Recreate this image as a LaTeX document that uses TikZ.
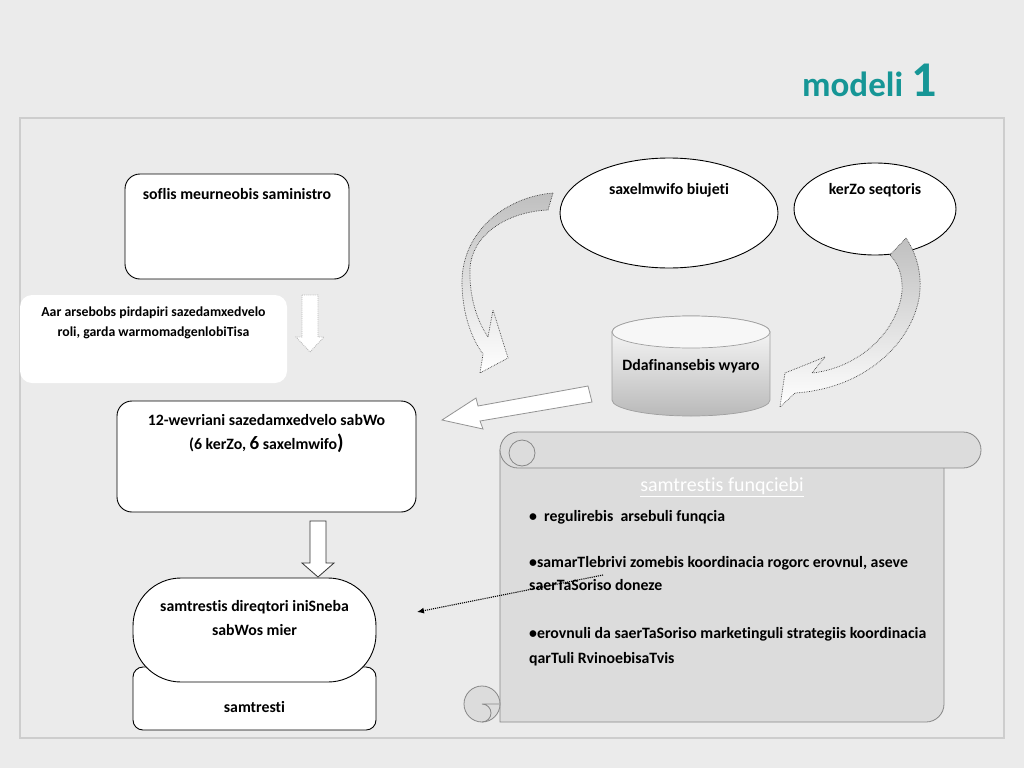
\documentclass[tikz,border=0pt]{standalone}
\usepackage{fontspec}
\setmainfont{Carlito}[Ligatures={NoCommon,NoContextual}]
\usetikzlibrary{positioning,shapes.geometric,arrows.meta}
\definecolor{modelteal}{RGB}{22,150,150}
\definecolor{slidegray}{RGB}{235,235,235}
\definecolor{framegray}{RGB}{205,205,205}
\definecolor{scrollgray}{RGB}{220,220,220}
\definecolor{scrolledge}{RGB}{135,135,135}

\begin{document}
\begin{tikzpicture}[x=1pt,y=-1pt,
  box_node/.style={rectangle,draw=black,line width=0.9pt,fill=white,rounded corners=15pt,inner sep=0pt},
  oval_node/.style={ellipse,draw=black,line width=0.9pt,fill=white,inner sep=0pt},
  text_node/.style={font=\fontsize{15.8}{24}\selectfont\bfseries,align=center,inner sep=0pt},
  list_node/.style={font=\fontsize{15.8}{23}\selectfont\bfseries,anchor=base west,inner sep=0pt},
  block_arrow/.style={fill=white,draw=gray!85,line width=0.8pt},
  dotted_arrow/.style={fill=white,draw=gray!55,densely dotted,line width=0.9pt},
  curved_arrow/.style={top color=gray!50,bottom color=white,draw=black!75,densely dotted,line width=0.7pt},
  scroll_part/.style={fill=scrollgray,draw=scrolledge,line width=0.8pt}]

  % slide and frame
  \fill[slidegray] (0,0) rectangle (1024,768);
  \useasboundingbox (0,0) rectangle (1024,768);
  \draw[framegray,line width=1.2pt] (20,118) rectangle (1004,738);

  \node[anchor=base west,inner sep=0pt,text=modelteal,font=\fontsize{35}{40}\selectfont\bfseries] (heading) at (802,96) {modeli {\fontsize{50}{50}\selectfont 1}};

  % left column
  \node[box_node,minimum width=224pt,minimum height=105pt] (ministry) at (237,226.5) {};
  \node[text_node,below=15pt of ministry.north] (ministry_text) {soflis meurneobis saministro};

  \node[box_node,draw=none,rounded corners=12pt,minimum width=267pt,minimum height=88pt] (role) at (153.5,339) {};
  \node[text_node,font=\fontsize{13.8}{20}\selectfont\bfseries,below=12pt of role.north] (role_text) {Aar arsebobs pirdapiri sazedamxedvelo\\roli, garda warmomadgenlobiTisa};

  \node[box_node,minimum width=299pt,minimum height=111pt] (council) at (266.5,456.5) {};
  \node[text_node,below=14pt of council.north] (council_text) {12-wevriani sazedamxedvelo sabWo\\(6 kerZo,\ {\fontsize{19}{24}\selectfont 6}\ saxelmwifo{\fontsize{21}{24}\selectfont )}};

  \node[box_node,rounded corners=10pt,minimum width=243pt,minimum height=63pt] (group) at (254.5,698.5) {};
  \node[box_node,rounded corners=48pt,minimum width=243pt,minimum height=104pt] (director) at (254.5,630) {};
  \node[text_node,below=23pt of director.north] (director_text) {samtrestis direqtori iniSneba\\sabWos mier};
  \node[text_node,below=35pt of group.north] (group_text) {samtresti};

  % sources of finance
  \node[oval_node,minimum width=218pt,minimum height=110pt] (budget) at (669,213) {};
  \node[text_node,below=26pt of budget.north] (budget_text) {saxelmwifo biujeti};
  \node[oval_node,minimum width=162pt,minimum height=92pt] (private) at (875,209) {};
  \node[text_node,below=21pt of private.north] (private_text) {kerZo seqtoris};

  \draw[gray!75,line width=0.7pt,top color=white,bottom color=gray!55] (612,332) -- (612,400) arc[start angle=180,end angle=0,x radius=79,y radius=16] -- (770,332) arc[start angle=0,end angle=-180,x radius=79,y radius=16] -- cycle;
  \draw[gray!75,line width=0.7pt,fill=white!94!gray] (691,332) ellipse[x radius=79,y radius=16];
  \node[text_node] (fund) at (691,366) {Ddafinansebis wyaro};

  % block arrows
  \draw[curved_arrow] (553,193) .. controls (505,197) and (462,232) .. (462,282) .. controls (462,312) and (471,338) .. (483,354) -- (480,373) -- (508,358) -- (493,310) -- (488,337) .. controls (475,318) and (469,292) .. (470,268) .. controls (472,236) and (505,212) .. (548,210) -- cycle;
  \draw[curved_arrow] (906,238) .. controls (917,255) and (921,272) .. (920,290) .. controls (917,335) and (872,388) .. (795,393) -- (780,407) -- (785,373) -- (825,357) -- (812,373) .. controls (858,368) and (897,333) .. (902,292) .. controls (903,275) and (898,263) .. (890,255) -- cycle;
  \draw[block_arrow] (588,386) -- (478,406) -- (476,398) -- (442,420) -- (483,429) -- (480,421) -- (592,402) -- cycle;
  \draw[dotted_arrow] (302,295) -- (318,295) -- (318,337) -- (324,337) -- (310,352) -- (296,337) -- (302,337) -- cycle;
  \draw[block_arrow,draw=black!80] (310,521) -- (326,521) -- (326,563) -- (334,563) -- (318,577) -- (302,563) -- (310,563) -- cycle;

  % scroll
  \draw[scroll_part] (500,450) -- (500,722) -- (926,722) arc[start angle=90,end angle=0,radius=18] -- (944,450) -- cycle;
  \draw[scroll_part,rounded corners=18pt] (500,432) rectangle (981,468);
  \draw[scroll_part] (522,453) circle[radius=13];
  \draw[scroll_part] (482,704) circle[radius=18];
  \draw[scrolledge,line width=0.8pt] (482,722) arc[start angle=90,end angle=-90,radius=9] -- (500,704);

  \node[font=\fontsize{20}{24}\selectfont,text=white,inner sep=0pt] (func_title) at (722,487) {\underline{samtrestis funqciebi}};
  \node[list_node] (func_a) at (529,521) {•\ \ regulirebis\ \ arsebuli funqcia};
  \node[list_node] (func_b) at (529,567) {•samarTlebrivi zomebis koordinacia rogorc erovnul, aseve};
  \node[list_node] (func_b2) at (529,590) {saerTaSoriso doneze};
  \node[list_node] (func_c) at (529,638) {•erovnuli da saerTaSoriso marketinguli strategiis koordinacia};
  \node[list_node] (func_c2) at (529,663) {qarTuli RvinoebisaTvis};

  \coordinate (dot_start) at (603,575);
  \coordinate (dot_end) at (417,612);
  \draw[densely dotted,line width=1.1pt,-{Latex[length=7pt,width=6pt]}] (dot_start) -- (dot_end);
\end{tikzpicture}
\end{document}
